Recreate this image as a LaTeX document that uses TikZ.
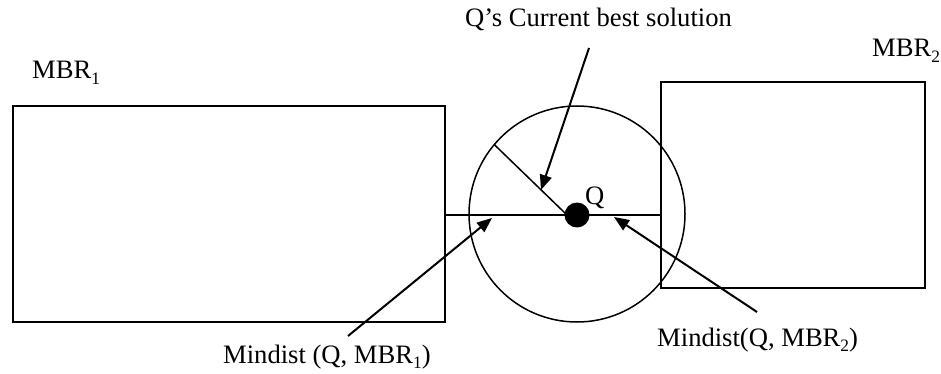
\documentclass[tikz,border=0pt]{standalone}
\usepackage{fontspec}
\setmainfont{Liberation Serif}
\usetikzlibrary{arrows.meta}
\newcommand{\subsc}[1]{\raisebox{-0.22em}{\fontsize{17.4}{18}\selectfont #1}}
\begin{document}
\begin{tikzpicture}[x=1pt,y=-1pt,
  box/.style={draw, line width=2pt, inner sep=0pt, outer sep=0pt},
  lbl/.style={inner sep=0pt, anchor=base west, font=\fontsize{26.6}{30}\selectfont},
  ptr/.style={line width=2pt, -{Triangle[length=15pt,width=12pt]}}]
\useasboundingbox (0,0) rectangle (941,374);
\node[box, minimum width=432pt, minimum height=216pt] (mbr1) at (229,214) {};
\node[box, minimum width=264pt, minimum height=206pt] (mbr2) at (793,185) {};
\node[draw, circle, line width=1.5pt, minimum size=216pt, inner sep=0pt, outer sep=0pt] (circ) at (577,214) {};
\coordinate (qc) at (577,215);
\draw[line width=1.5pt] (mbr1.east |- qc) -- (mbr2.west |- qc);
\coordinate (rs) at (567,215);
\draw[line width=1.5pt] (rs) -- (circ.140);
\node[circle, fill=black, minimum size=25pt, inner sep=0pt] (q) at (qc) {};
\node[lbl] (qlbl) at (585,204) {Q};
\node[lbl] (title) at (465,27) {Q’s Current best solution};
\node[lbl] (l1) at (32,79) {MBR\subsc{1}};
\node[lbl] (l2) at (872,57) {MBR\subsc{2}};
\node[lbl] (m1) at (223,363) {Mindist (Q, MBR\subsc{1})};
\node[lbl] (m2) at (657,346) {Mindist(Q, MBR\subsc{2})};
\coordinate (t0) at (589,48);
\coordinate (t1) at (541,190);
\coordinate (a0) at (348,336);
\coordinate (a1) at (492,218);
\coordinate (b0) at (757,312);
\coordinate (b1) at (614,217);
\draw[ptr] (t0) -- (t1);
\draw[ptr] (a0) -- (a1);
\draw[ptr] (b0) -- (b1);
\end{tikzpicture}
\end{document}
